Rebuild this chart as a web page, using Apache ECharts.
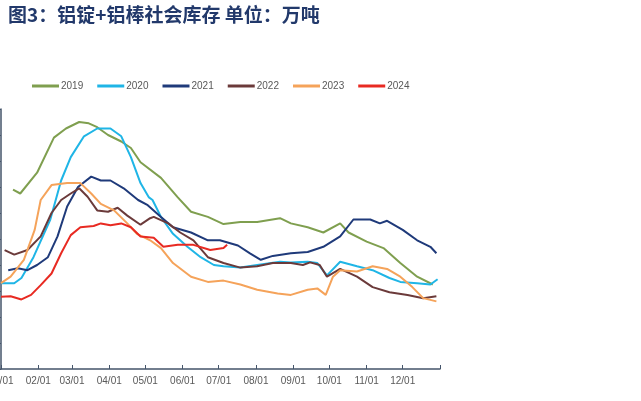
<!DOCTYPE html>
<html><head><meta charset="utf-8">
<script src="https://cdn.jsdelivr.net/npm/echarts@6/dist/echarts.min.js"></script>
<style>html,body{margin:0;padding:0;background:#fff}#c{width:641px;height:401px}</style>
</head><body><div id="c"></div>
<script>
// x = day of year, y = 万吨
const monthStarts = [0,31,59,90,120,151,181,212,243,273,304,334];
const monthLabels = ['01/01','02/01','03/01','04/01','05/01','06/01','07/01','08/01','09/01','10/01','11/01','12/01'];
const yearNames = ['2019','2020','2021','2022','2023','2024'];
const yearColors = ['#7f9f4f','#1fb5e6','#1f3a7a','#6b3a3a','#f5a35a','#e82a22'];

const s2019 = [[10,138],[16,135],[30,151],[44,178],[54,185],[65,190],[73,189],[80,186],[89,180],[100,175],[108,170],[116,159],[133,147],[147,132],[158,121],[172,117],[185,111.5],[199,113],[213,113],[232,116],[241,112],[255,109],[268,105],[282,112],[289,105],[304,98],[318,93],[332,81.5],[346,71],[359,65]];
const s2020 = [[0,66],[11,66],[17,70],[27,86],[41,115],[50,145],[58,163],[69,179],[80,185],[91,185],[100,179],[108,163],[116,143],[123,132],[126,130],[133,117],[143,104],[155,94],[166,86],[177,80],[185,79],[199,78],[213,80],[232,82.5],[241,82],[255,82.5],[263,81.5],[271,72],[282,82.5],[296,79],[309,76],[323,70],[332,67],[346,66],[357,65],[363,69]];
const s2021 = [[6,76],[14,77.5],[22,76],[30,80],[39,86],[47,102],[55,125],[64,140],[75,148],[83,145],[91,145],[102,139],[114,130],[122,126],[133,117],[143,109],[158,105],[172,99],[182,99],[197,95],[207,89],[216,84],[226,87],[241,89],[255,90],[268,94],[282,102],[293,115],[307,115],[315,112],[321,114],[334,107],[346,99],[357,94],[362,89]];
const s2022 = [[3,91.5],[11,88],[22,91.5],[33,102],[42,120],[50,130],[58,135],[65,139],[72,132.5],[80,122],[89,121],[97,124],[105,118],[116,111],[124,116],[127,117],[139,112],[149,105],[160,99],[172,86],[185,81.5],[199,78],[213,79],[226,81.5],[241,81.5],[251,80],[257,82],[265,80],[271,71],[282,77],[296,71],[309,63],[323,59],[338,57],[351,54.5],[362,56]];
const s2023 = [[0,66],[8,71],[19,84],[28,107],[33,130],[42,141.5],[55,143],[66,143],[75,135],[83,127],[94,122],[105,112],[113,104],[124,99],[133,93],[143,81.5],[158,71],[172,67],[185,68],[199,65],[213,61],[230,58],[241,57],[255,61],[263,62],[270,57],[276,71],[282,76],[296,75],[309,79],[321,77],[332,71],[342,63],[351,54.5],[362,52]];
const s2024 = [[0,55.5],[8,56],[17,53.5],[25,57],[33,64.5],[42,73.5],[50,89],[58,103],[66,109],[77,110],[83,112],[91,110.5],[100,112],[108,109],[116,102],[127,101],[135,94],[147,95.5],[160,95.5],[174,91.5],[185,93],[188,95.5]];
const allSeries = [s2019,s2020,s2021,s2022,s2023,s2024];

const chart = echarts.init(document.getElementById('c'), null, {renderer:'canvas'});
chart.setOption({
  animation:false,
  backgroundColor:'#fff',
  title:{text:'图3：铝锭+铝棒社会库存 单位：万吨',left:3,top:0,
    textStyle:{fontFamily:'Noto Sans CJK SC',fontSize:19,fontWeight:'bold',color:'#22396b'}},
  legend:{top:76,left:27,itemWidth:27,itemHeight:3,itemGap:14,icon:'rect',
    textStyle:{fontFamily:'Liberation Sans',fontSize:10,color:'#595959',padding:[0,0,0,-3]},
    data:yearNames},
  grid:{left:1,right:201,top:109,bottom:32,containLabel:false,outerBoundsMode:'none'},
  xAxis:{type:'value',min:0,max:365,
    axisLine:{show:true,lineStyle:{color:'#44546a',width:1.5}},
    axisTick:{show:true,inside:true,length:4,customValues:monthStarts.concat([365]),lineStyle:{color:'#44546a'}},
    axisLabel:{customValues:monthStarts,margin:7,fontFamily:'Liberation Sans',fontSize:10,color:'#595959',
      formatter:function(v){const i=monthStarts.indexOf(v);return i>=0?monthLabels[i]:'';}},
    splitLine:{show:false}},
  yAxis:{type:'value',min:0,max:200,interval:20,
    axisLine:{show:true,lineStyle:{color:'#44546a',width:1.5}},
    axisTick:{show:true,length:3,lineStyle:{color:'#44546a'}},
    axisLabel:{show:false},splitLine:{show:false}},
  series: allSeries.map((d,i)=>({name:yearNames[i],type:'line',data:d,showSymbol:false,symbol:'none',
    smooth:false,lineStyle:{width:2,color:yearColors[i]},itemStyle:{color:yearColors[i]},z:i}))
});
</script></body></html>
